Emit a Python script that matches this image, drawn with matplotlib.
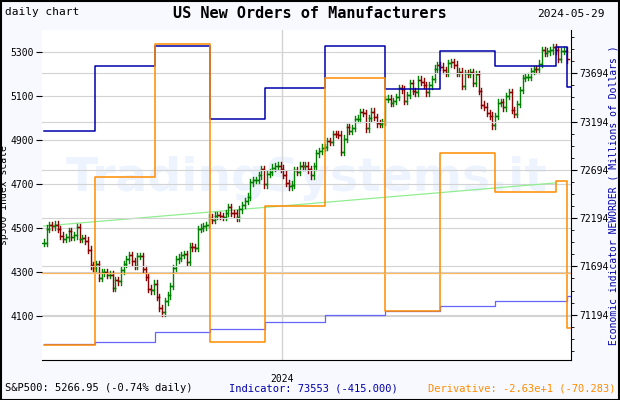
import numpy as np
import matplotlib
matplotlib.use("Agg")
import matplotlib.pyplot as plt

# S&P500 daily closes, 2023-08-28 .. 2024-05-29
closes = [4433, 4497, 4514, 4507,
          4515, 4496, 4465, 4451, 4457, 4487, 4461, 4467, 4505, 4450, 4453, 4443, 4402, 4330, 4320, 4337, 4274, 4299, 4300, 4288,
          4288, 4229, 4263, 4258, 4308, 4336, 4358, 4376, 4349, 4327, 4373, 4373, 4314, 4278, 4224, 4217, 4247, 4186, 4137, 4117, 4166, 4194,
          4237, 4318, 4358, 4365, 4378, 4382, 4347, 4415, 4412, 4411, 4495, 4502, 4508, 4514, 4547, 4538, 4556, 4559, 4554, 4550, 4568,
          4594, 4569, 4567, 4549, 4585, 4604, 4622, 4643, 4708, 4719, 4719, 4740, 4768, 4698, 4746, 4754, 4774, 4781, 4783, 4770,
          4742, 4704, 4689, 4697, 4763, 4756, 4783, 4780, 4783, 4766, 4739, 4780, 4840, 4850, 4865, 4868, 4894, 4891, 4928, 4927, 4925, 4845,
          4906, 4958, 4942, 4954, 4995, 4997, 5026, 5022, 4953, 5000, 5029, 5005, 4976, 4975, 4981, 5087, 5088, 5069, 5078, 5096,
          5137, 5130, 5079, 5105, 5157, 5123, 5117, 5175, 5165, 5150, 5117, 5149, 5178, 5224, 5241, 5234, 5218, 5204, 5248, 5254,
          5243, 5205, 5211, 5147, 5204, 5202, 5209, 5161, 5199, 5123, 5061, 5051, 5022, 5011, 4967, 5010, 5070, 5071, 5048, 5100, 5116, 5036,
          5018, 5064, 5128, 5181, 5187, 5188, 5214, 5223, 5221, 5247, 5309, 5297, 5303, 5308, 5321, 5307, 5268, 5305, 5306, 5267]
bar_range = 30

# monthly release steps (start index of each level)
step_start = [0, 18.5, 40.4, 60.4, 80.4, 102, 124, 144, 164, 186, 190]
indicator = [73100, 73767, 73975, 73225, 73538, 73975, 73527, 73923, 73767, 73968, 73553]
ind_avg = [70886, 70907, 71012, 71043, 71116, 71194, 71236, 71288, 71340, 71340, 71392]
derivative = [-34.4, 46.0, 109.6, -33.0, 32.1, 93.3, -18.2, 57.4, 38.8, 44.0, -26.3]
trend_x = [0, 186]
trend_y = [4509, 4705]

mono = "DejaVu Sans Mono"
n = len(closes)
fig = plt.figure(figsize=(6.2, 4), dpi=100, facecolor="#f8f8ff")
ax = fig.add_axes([0.0677, 0.1, 0.853, 0.825])
ax.set_facecolor("white")
ax.text(0.5, 0.55, "TradingSystems.it", transform=ax.transAxes, ha="center", va="center",
        fontsize=34, fontweight="bold", color="#eef4ff", zorder=0)

opens = [closes[0]] + closes[:-1]
for i in range(n):
    o, c = opens[i], closes[i]
    col = "green" if c >= o else "darkred"
    hi = max(o, c) + bar_range / 2
    lo = min(o, c) - bar_range / 2
    ax.plot([i, i], [lo, hi], color=col, lw=1, zorder=3)
    ax.plot([i - 0.7, i], [o, o], color=col, lw=1, zorder=3)
    ax.plot([i, i + 0.7], [c, c], color=col, lw=1, zorder=3)
ax.plot(trend_x, trend_y, color="#90ee90", lw=0.9, zorder=2)

ax.set_xlim(-0.7, 191.5)
ax.set_ylim(3900, 5400)
ax.set_yticks(range(4100, 5400, 200))
ax.grid(axis="y", color="#d3d3d3", lw=0.8)
ax.axvline(86.5, color="#d3d3d3", lw=1)
ax.set_xticks([86.5])
ax.set_xticklabels(["2024"])
ax.tick_params(axis="x", length=0, pad=10)
ax.tick_params(axis="y", length=4, pad=2)
ax.set_ylabel("sp500 index scale", fontsize=7, family=mono)
ax.yaxis.set_label_coords(-0.062, 0.5)
for s in ["top", "right", "left"]:
    ax.spines[s].set_visible(False)

sx = step_start + [191.5]
ax2 = ax.twinx()
ax2.step(sx, indicator + [indicator[-1]], where="post", color="#0000aa", lw=1.1)
ax2.step(sx, ind_avg + [ind_avg[-1]], where="post", color="#6666ff", lw=0.9)
ax2.set_ylim(70725, 74142)
ax2.set_yticks(range(71194, 74000, 500))
ax2.set_yticks(range(70819, 74142, 125), minor=True)
ax2.tick_params(axis="y", length=4, pad=2)
ax2.grid(axis="y", color="#d3d3d3", lw=0.8)
ax2.set_ylabel("Economic indicator NEWORDER ( Millions of Dollars )", color="#0000aa",
               fontsize=7, family=mono, rotation=90)
ax2.yaxis.set_label_coords(1.072, 0.5)
for s in ["top", "left", "bottom"]:
    ax2.spines[s].set_visible(False)

ax3 = ax.twinx()
ax3.step(sx, derivative + [derivative[-1]], where="post", color="darkorange", lw=1.1)
ax3.axhline(0, color="#ffb860", lw=0.9)
ax3.set_ylim(-41.6, 116.3)
ax3.axis("off")

for a in (ax, ax2):
    for lab in a.get_xticklabels() + a.get_yticklabels():
        lab.set_fontsize(7)
        lab.set_family(mono)

fig.text(0.5, 0.965, "US New Orders of Manufacturers", ha="center", va="center",
         fontsize=11, fontweight="bold", family=mono)
fig.text(0.008, 0.97, "daily chart", fontsize=8, va="center", family=mono)
fig.text(0.975, 0.965, "2024-05-29", fontsize=8, va="center", ha="right", family=mono)
fig.text(0.008, 0.022, "S&P500: 5266.95 (-0.74% daily)", fontsize=7.5, family=mono)
fig.text(0.37, 0.022, "Indicator: 73553 (-415.000)", fontsize=7.5, color="#0000aa", family=mono)
fig.text(0.993, 0.022, "Derivative: -2.63e+1 (-70.283)", fontsize=7.5, ha="right",
         color="darkorange", family=mono)
fig.add_artist(plt.Rectangle((0.001, 0.001), 0.997, 0.997, transform=fig.transFigure,
                             fill=False, edgecolor="black", lw=1.5))
fig.savefig("out.png", dpi=100, facecolor=fig.get_facecolor())
